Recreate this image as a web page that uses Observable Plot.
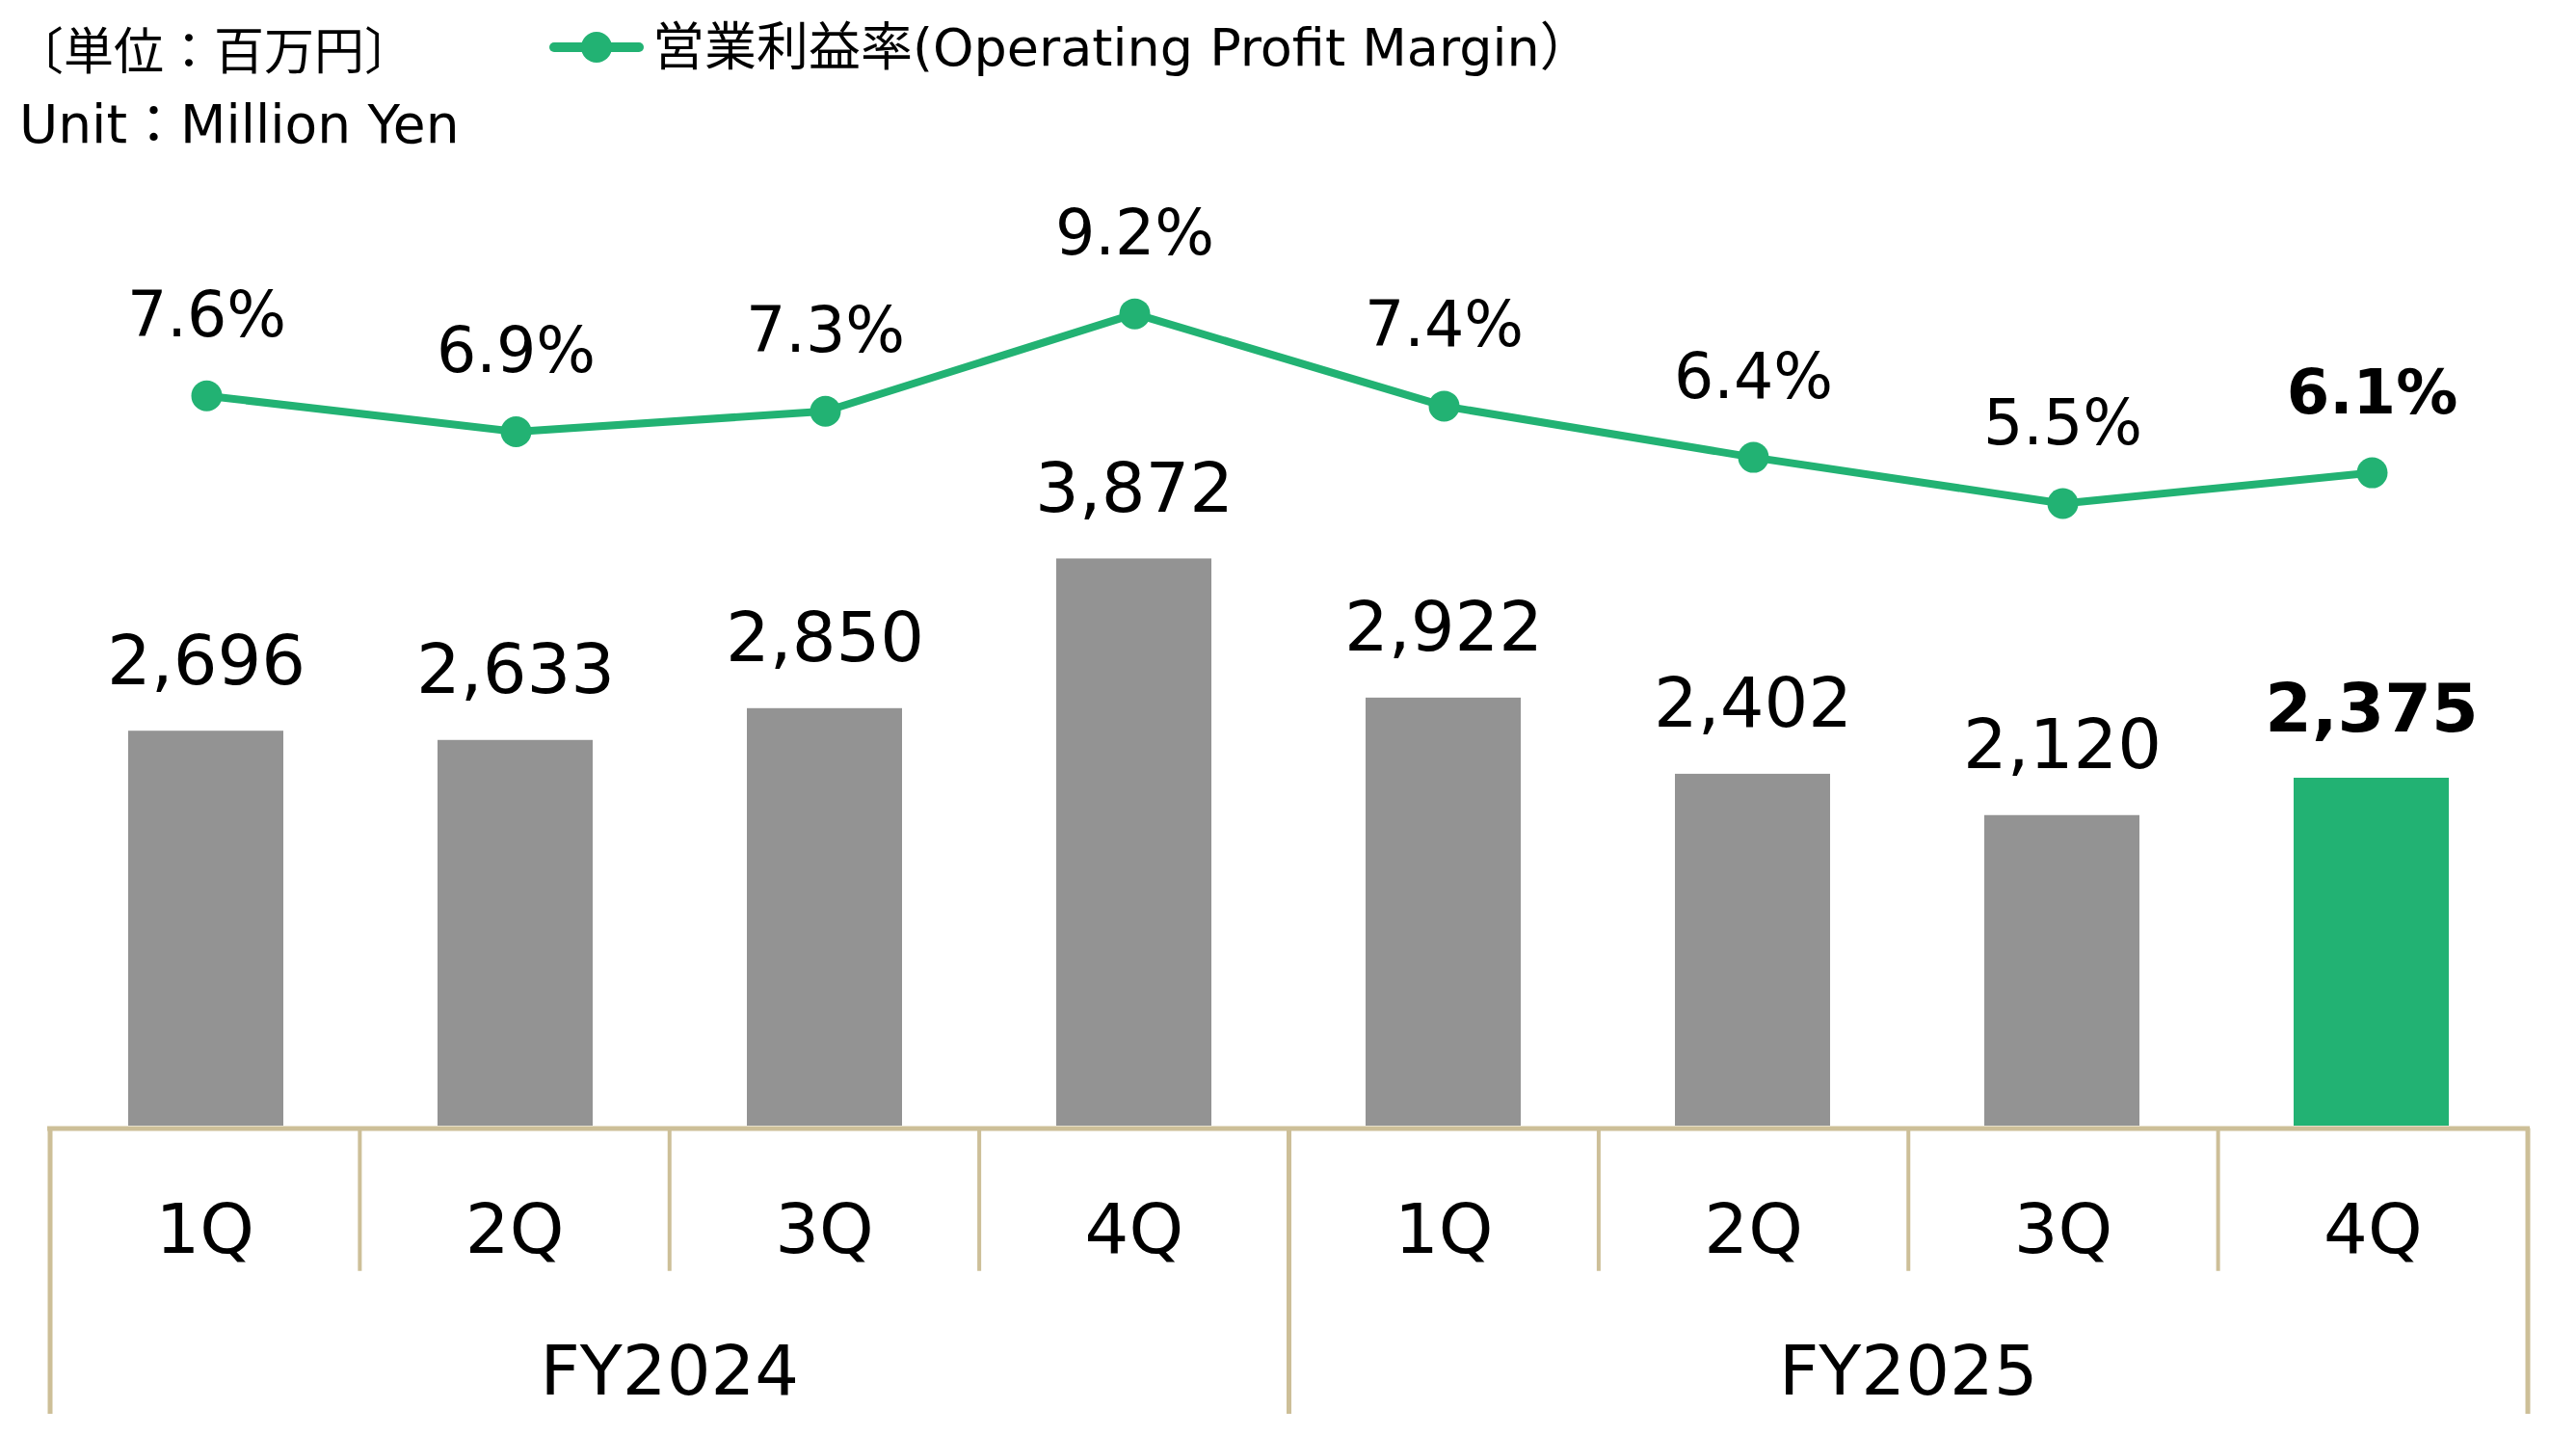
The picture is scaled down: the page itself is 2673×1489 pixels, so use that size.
<!DOCTYPE html>
<html>
<head>
<meta charset="utf-8">
<script src="https://cdn.jsdelivr.net/npm/d3@7"></script>
<script src="https://cdn.jsdelivr.net/npm/@observablehq/plot@0.6"></script>
<style>
  html, body { margin: 0; padding: 0; background: #fff; }
  body { width: 2673px; height: 1489px; overflow: hidden; font-family: "DejaVu Sans", "Noto Sans CJK JP", sans-serif; }
  #header { position: relative; width: 2673px; height: 170px; }
  #chart { position: relative; width: 2673px; height: 1319px; }
  #chart svg { position: absolute; left: 0; top: 0; overflow: visible; }
</style>
</head>
<body>
<div id="header"></div>
<div id="chart"></div>
<script>
// ---- data ----
const years = ["FY2024", "FY2025"];
const quarters = ["1Q", "2Q", "3Q", "4Q"];
const operatingProfit = [2696, 2633, 2850, 3872, 2922, 2402, 2120, 2375]; // 百万円
const operatingMargin = [7.6, 6.9, 7.3, 9.2, 7.4, 6.4, 5.5, 6.1];        // %
const unitLabelJa = "〔単位：百万円〕";
const unitLabelEn = "Unit：Million Yen";
const legendLabel = "営業利益率(Operating Profit Margin）";

// ---- styles ----
const GRAY = "#939393", GREEN = "#22B273", TAN = "#CDBF98";
const FONT = "DejaVu Sans, Noto Sans CJK JP, sans-serif";
const W = 2673, H = 1319;

const rows = years.flatMap((fy, yi) => quarters.map((q, qi) => {
  const i = yi * quarters.length + qi;
  return {key: fy + " " + q, fy, q, i, profit: operatingProfit[i], margin: operatingMargin[i]};
}));
const keys = rows.map(d => d.key);
const lastKey = keys[keys.length - 1];
const fmtProfit = d3.format(",");
const fmtPct = d => d3.format(".1f")(d) + "%";

// ---- header (legend) ----
const header = d3.select("#header").append("svg")
  .attr("width", W).attr("height", 170)
  .style("font-family", FONT);
header.append("text").attr("x", 14).attr("y", 72).attr("font-size", 52).text(unitLabelJa);
header.append("text").attr("x", 20).attr("y", 148).attr("font-size", 55).text(unitLabelEn);
header.append("line").attr("x1", 575).attr("x2", 663).attr("y1", 49).attr("y2", 49)
  .attr("stroke", GREEN).attr("stroke-width", 10).attr("stroke-linecap", "round");
header.append("circle").attr("cx", 619).attr("cy", 49).attr("r", 16).attr("fill", GREEN);
header.append("text").attr("x", 677).attr("y", 68).attr("font-size", 54).text(legendLabel);

const xRange = [51.5, 2622.5];
const common = {width: W, height: H, marginTop: 0, marginRight: 0, marginBottom: 0, marginLeft: 0,
  style: {fontFamily: FONT, background: "transparent", overflow: "visible"}};

// ---- bars ----
const bars = Plot.plot({
  ...common,
  x: {type: "band", domain: keys, range: xRange, paddingInner: 0.5, paddingOuter: 0.25, axis: null},
  y: {domain: [0, 4000], range: [998, 390], axis: null},
  color: {type: "identity"},
  marks: [
    Plot.barY(rows, {x: "key", y: "profit", fill: d => d.key === lastKey ? GREEN : GRAY}),
    Plot.text(rows.filter(d => d.key !== lastKey), {x: "key", y: "profit", text: d => fmtProfit(d.profit),
      lineAnchor: "bottom", dy: -49, fontSize: 72, fill: "#000"}),
    Plot.text(rows.filter(d => d.key === lastKey), {x: "key", y: "profit", text: d => fmtProfit(d.profit),
      lineAnchor: "bottom", dy: -49, fontSize: 70, fontWeight: "bold", fill: "#000"})
  ]
});

// ---- margin line ----
const line = Plot.plot({
  ...common,
  x: {type: "point", domain: keys, range: xRange, padding: 0.5, axis: null},
  y: {domain: [0, 10], range: [644.6, 112.6], axis: null},
  marks: [
    Plot.line(rows, {x: "key", y: "margin", stroke: GREEN, strokeWidth: 8}),
    Plot.dot(rows, {x: "key", y: "margin", r: 16, fill: GREEN, stroke: null}),
    Plot.text(rows.filter(d => d.key !== lastKey), {x: "key", y: "margin", text: d => fmtPct(d.margin),
      lineAnchor: "bottom", dy: -62, fontSize: 65, fill: "#000"}),
    Plot.text(rows.filter(d => d.key === lastKey), {x: "key", y: "margin", text: d => fmtPct(d.margin),
      lineAnchor: "bottom", dy: -62, fontSize: 64, fontWeight: "bold", fill: "#000"})
  ]
});

// ---- category table (axis) ----
const n = rows.length;
const boundaries = d3.range(n + 1).map(b => ({b, yearEdge: b % quarters.length === 0}));
const yearRows = years.map((fy, yi) => ({fy, center: yi * quarters.length + quarters.length / 2}));
const table = Plot.plot({
  ...common,
  marginLeft: 49, marginRight: 48,
  x: {type: "linear", domain: [0, n], range: xRange, axis: null},
  y: {domain: [0, 2], range: [1000.5, 1297], axis: null},
  marks: [
    Plot.ruleX(boundaries.filter(d => !d.yearEdge), {x: "b", y1: 0, y2: 1, stroke: TAN, strokeWidth: 4}),
    Plot.ruleX(boundaries.filter(d => d.yearEdge), {x: "b", y1: 0, y2: 2, stroke: TAN, strokeWidth: 5}),
    Plot.ruleY([0], {stroke: TAN, strokeWidth: 5}),
    Plot.text(rows, {x: d => d.i + 0.5, y: 0.5, text: "q", fontSize: 72, lineAnchor: "middle", dy: 32, fill: "#000"}),
    Plot.text(yearRows, {x: "center", y: 1.5, text: "fy", fontSize: 72, lineAnchor: "middle", dy: 31, fill: "#000"})
  ]
});

const chart = document.getElementById("chart");
chart.append(bars, line, table);
</script>
</body>
</html>
